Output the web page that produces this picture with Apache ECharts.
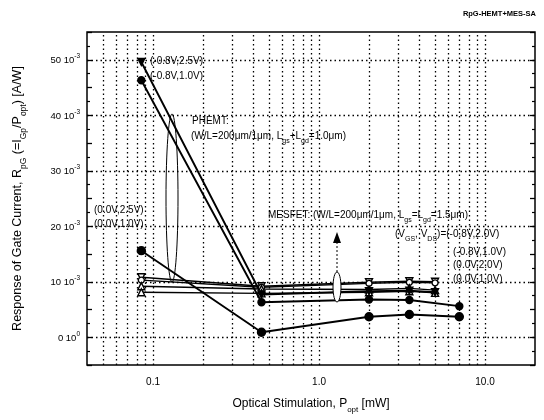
<!DOCTYPE html>
<html>
<head>
<meta charset="utf-8">
<script src="https://cdn.jsdelivr.net/npm/echarts@6/dist/echarts.min.js"></script>
<style>
  html, body { margin: 0; background: #fff; }
  #chart { width: 544px; height: 420px; }
</style>
</head>
<body>
<div id="chart"></div>
<script>
// optical power [mW]
const powerShort = [0.085, 0.45, 2.0, 3.5, 5.0];
const powerLong = [0.085, 0.45, 2.0, 3.5, 7.0];

// response R_pG in units of 1e-3 A/W
const phemtHiVds = [49.6, 7.7, 8.3, 8.4, 8.1];   // (-0.8V,2.5V) on powerShort
const phemtLoVds = [46.3, 6.3, 6.8, 6.7, 5.6];   // (-0.8V,1.0V) on powerLong
const phemtZero = [15.6, 0.9, 3.7, 4.1, 3.7];    // (0.0V,...) on powerLong
const mesA = [10.8, 9.2, 9.9, 10.1, 10.0];       // (-0.8V,2.0V)
const mesB = [10.3, 9.0, 9.7, 9.9, 9.8];         // (-0.8V,1.0V)
const mesC = [9.2, 8.7, 8.6, 8.8, 8.5];          // (0.0V,2.0V)
const mesD = [8.1, 7.9, 8.1, 8.3, 8.0];          // (0.0V,1.0V)

const xDecades = [0.1, 1, 10];
const xTickLabels = ['0.1', '1.0', '10.0'];
const xGridLines = [0.05, 0.06, 0.07, 0.08, 0.09, 0.1, 0.2, 0.3, 0.4, 0.5, 0.6, 0.7, 0.8, 0.9,
                    1, 2, 3, 4, 5, 6, 7, 8, 9, 10];
const yGridLines = [0, 10, 20, 30, 40, 50];

const FONT = 'Liberation Sans, Arial, sans-serif';
const pair = (xs, ys) => xs.map((x, i) => [x, ys[i]]);

const chart = echarts.init(document.getElementById('chart'));

function curve(xs, ys, symbol, filled, opts = {}) {
  return Object.assign({
    type: 'line',
    data: pair(xs, ys),
    symbol: symbol,
    symbolSize: 7,
    lineStyle: { color: '#000', width: 1.9 },
    itemStyle: { color: filled ? '#000' : '#fff', borderColor: '#000', borderWidth: 1.4 },
    z: 5
  }, opts);
}

const txt = (left, top, text, size) => ({
  type: 'text', left: left, top: top, z: 20,
  style: {
    text: text, fill: '#000', font: (size || 10) + 'px ' + FONT,
    rich: {
      n: { fontSize: size || 10, fontFamily: FONT, lineHeight: 13, verticalAlign: 'top' },
      s: { fontSize: 7, fontFamily: FONT, lineHeight: 8, verticalAlign: 'top', padding: [7, 0, 0, 0] }
    }
  }
});

chart.setOption({
  animation: false,
  backgroundColor: '#fff',
  grid: { left: 87, right: 9, top: 32, bottom: 55, show: true, borderColor: '#000', borderWidth: 1.5 },
  xAxis: {
    type: 'log', logBase: 10, min: 0.04, max: 20,
    name: '{n|Optical Stimulation, P}{s|opt}{n| [mW]}',
    nameLocation: 'middle', nameGap: 33,
    nameTextStyle: {
      rich: {
        n: { fontSize: 12, fontFamily: FONT, color: '#000', lineHeight: 15, verticalAlign: 'top' },
        s: { fontSize: 8, fontFamily: FONT, color: '#000', lineHeight: 8, verticalAlign: 'top', padding: [8, 0, 0, 0] }
      }
    },
    axisLine: { show: false },
    axisTick: { show: false },
    splitLine: { show: false },
    axisLabel: {
      margin: 12, color: '#000', fontFamily: FONT, fontSize: 10,
      showMinLabel: false, showMaxLabel: false,
      formatter: v => {
        const i = xDecades.findIndex(d => Math.abs(v / d - 1) < 1e-6);
        return i >= 0 ? xTickLabels[i] : '';
      }
    }
  },
  yAxis: [{
    type: 'value', min: -5, max: 55, interval: 5,
    name: '{n|Response of Gate Current, R}{s|pG}{n| (=I}{s|Gp}{n|/P}{s|opt}{n|) [A/W]}',
    nameLocation: 'middle', nameGap: 61, nameRotate: 90,
    nameTextStyle: {
      rich: {
        n: { fontSize: 12.5, fontFamily: FONT, color: '#000', lineHeight: 15, verticalAlign: 'top' },
        s: { fontSize: 8.5, fontFamily: FONT, color: '#000', lineHeight: 8, verticalAlign: 'top', padding: [8, 0, 0, 0] }
      }
    },
    axisLine: { show: false },
    axisTick: { show: true, inside: true, length: 5, lineStyle: { color: '#000', width: 1.3 } },
    minorTick: { show: true, splitNumber: 2, length: 3, lineStyle: { color: '#000', width: 1.2 } },
    splitLine: { show: false },
    axisLabel: {
      margin: 7, color: '#000',
      formatter: v => v % 10 !== 0 ? '' : (v === 0 ? '{a|0 10}{p|0}' : '{a|' + v + ' 10}{p|-3}'),
      rich: {
        a: { fontSize: 9.5, fontFamily: FONT, color: '#000', lineHeight: 14, verticalAlign: 'top', padding: [3, 0, 0, 0] },
        p: { fontSize: 6.5, fontFamily: FONT, color: '#000', lineHeight: 8, verticalAlign: 'top' }
      }
    }
  }, {
    type: 'value', min: -5, max: 55, interval: 5, position: 'right',
    axisLine: { show: false },
    axisLabel: { show: false },
    axisTick: { show: true, inside: true, length: 5, lineStyle: { color: '#000', width: 1.3 } },
    minorTick: { show: true, splitNumber: 2, length: 3, lineStyle: { color: '#000', width: 1.2 } },
    splitLine: { show: false }
  }],
  series: [
    {
      type: 'line', data: [], silent: true, z: 1,
      markLine: {
        silent: true, symbol: ['none', 'none'], label: { show: false },
        lineStyle: { color: '#000', width: 1.3, type: [1.5, 3] },
        data: xGridLines.map(v => ({ xAxis: v })).concat(yGridLines.map(v => ({ yAxis: v })))
      }
    },
    curve(powerShort, mesA, 'triangle', false, { symbolRotate: 180, lineStyle: { color: '#000', width: 1.4 } }),
    curve(powerShort, mesB, 'circle', false, { symbolSize: 6, lineStyle: { color: '#000', width: 1.4 } }),
    curve(powerShort, mesC, 'triangle', false, { lineStyle: { color: '#000', width: 1.4 } }),
    curve(powerShort, mesD, 'triangle', false, { lineStyle: { color: '#000', width: 1.4 } }),
    curve(powerShort, phemtHiVds, 'triangle', true, { symbolRotate: 180 }),
    curve(powerLong, phemtLoVds, 'circle', true),
    curve(powerLong, phemtZero, 'circle', true, { symbolSize: 8 })
  ],
  graphic: [
    { type: 'text', right: 8, top: 10, z: 20,
      style: { text: 'RpG-HEMT+MES-SA', fill: '#000', font: 'bold 7.5px ' + FONT } },
    txt(150, 56, '(-0.8V,2.5V)'),
    txt(150, 71, '(-0.8V,1.0V)'),
    txt(192, 116, 'PHEMT:'),
    txt(191, 131, '{n|(W/L=200μm/1μm, L}{s|gs}{n|+L}{s|gd}{n|=1.0μm)}'),
    txt(94, 205, '(0.0V,2.5V)'),
    txt(94, 219, '(0.0V,1.0V)'),
    txt(268, 210, '{n|MESFET: (W/L=200μm/1μm, L}{s|gs}{n|=L}{s|gd}{n|=1.5μm)}'),
    txt(395, 229, '{n|(V}{s|GS}{n|, V}{s|DS}{n|)=(-0.8V,2.0V)}'),
    txt(453, 247, '(-0.8V,1.0V)'),
    txt(453, 260, '(0.0V,2.0V)'),
    txt(453, 274, '(0.0V,1.0V)'),
    { type: 'ellipse', z: 15, shape: { cx: 172, cy: 198, rx: 6, ry: 84 },
      style: { fill: 'none', stroke: '#000', lineWidth: 1 } },
    { type: 'ellipse', z: 15, shape: { cx: 337, cy: 287, rx: 4, ry: 15 },
      style: { fill: '#fff', stroke: '#000', lineWidth: 1 } },
    { type: 'line', z: 15, shape: { x1: 337, y1: 272, x2: 337, y2: 240 },
      style: { stroke: '#000', lineWidth: 1, lineDash: [2, 2] } },
    { type: 'polygon', z: 15, shape: { points: [[333, 243], [337, 232], [341, 243]] },
      style: { fill: '#000' } }
  ]
});
</script>
</body>
</html>
